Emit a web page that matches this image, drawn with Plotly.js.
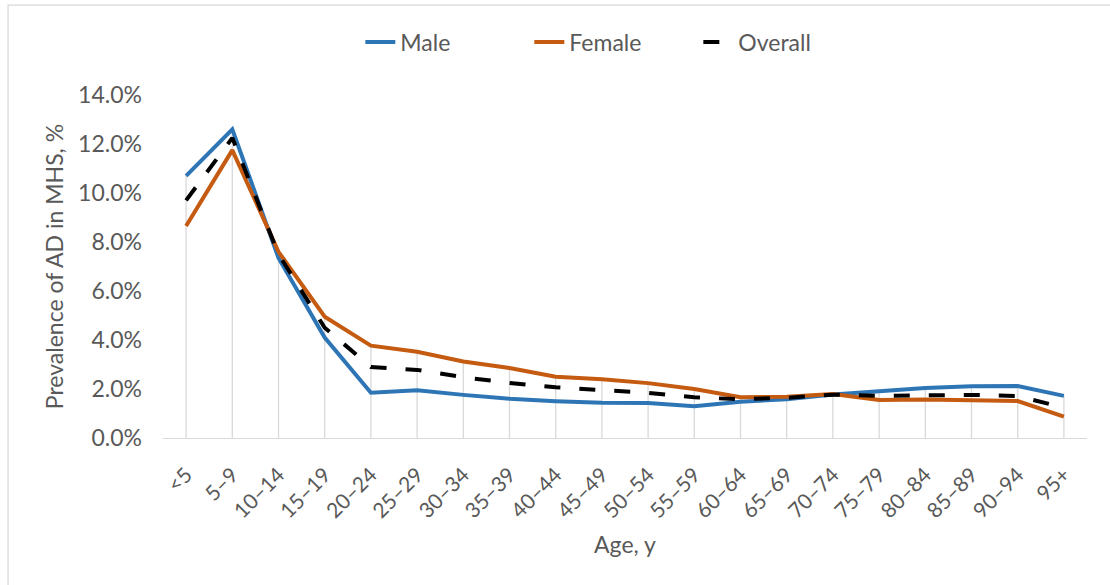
<!DOCTYPE html>
<html>
<head>
<meta charset="utf-8">
<script src="https://cdn.plot.ly/plotly-3.0.1.min.js"></script>
<style>html,body{margin:0;padding:0;background:#fff;}#chart{width:1110px;height:585px;}</style>
</head>
<body>
<div id="chart"></div>
<script>
const ageGroups = ["<5","5–9","10–14","15–19","20–24","25–29","30–34","35–39","40–44","45–49","50–54","55–59","60–64","65–69","70–74","75–79","80–84","85–89","90–94","95+"];
const male    = [10.7,12.6,7.35,4.1,1.85,1.95,1.76,1.6,1.5,1.44,1.43,1.3,1.48,1.58,1.78,1.93,2.04,2.11,2.12,1.72];
const female  = [8.65,11.75,7.6,4.95,3.77,3.52,3.12,2.86,2.5,2.4,2.24,2.0,1.66,1.68,1.8,1.55,1.57,1.52,1.51,0.87];
const overall = [9.7,12.25,7.5,4.5,2.9,2.78,2.48,2.25,2.07,1.95,1.84,1.66,1.58,1.64,1.77,1.72,1.76,1.76,1.71,1.24];
const yTicks = [0,2,4,6,8,10,12,14];

// Drop lines from the highest series value down to the axis
const dropX = [], dropY = [];
ageGroups.forEach((g,i)=>{
  dropX.push(g,g,null);
  dropY.push(0, Math.max(male[i],female[i],overall[i]), null);
});

const font = "Lato, Open Sans, Liberation Sans, sans-serif";
const grey = "#595959";

const traces = [
  {x:dropX, y:dropY, mode:"lines", line:{color:"#d9d9d9", width:1.3}, showlegend:false, hoverinfo:"skip"},
  {x:ageGroups, y:male, name:"Male", mode:"lines", line:{color:"#2E75B6", width:4}},
  {x:ageGroups, y:female, name:"Female", mode:"lines", line:{color:"#C55A11", width:4}},
  {x:ageGroups, y:overall, name:"Overall", mode:"lines", line:{color:"#000000", width:4, dash:"16px,19px"}}
];

const layout = {
  width:1110, height:585,
  margin:{l:163, r:23, t:95, b:147},
  paper_bgcolor:"#ffffff", plot_bgcolor:"#ffffff",
  font:{family:font, color:grey, size:22},
  showlegend:true,
  legend:{orientation:"h", x:0.553, xanchor:"center", xref:"container", y:1-42/585, yref:"container", yanchor:"middle",
          font:{family:font, size:23, color:grey}, entrywidth:124, entrywidthmode:"pixels", traceorder:"normal"},
  xaxis:{type:"category", range:[-0.5,19.5], showgrid:false, zeroline:false,
         showline:true, linecolor:"#d9d9d9", linewidth:1.3, ticks:"",
         tickangle:-45, ticklabelstandoff:15, tickfont:{family:font, size:21, color:grey},
         title:{text:"Age, y", font:{family:font, size:23, color:grey}, standoff:15}},
  yaxis:{range:[0,14], tickvals:yTicks, ticktext:yTicks.map(v=>v.toFixed(1)+"%"),
         showgrid:false, zeroline:false, showline:false, ticks:"",
         ticklabelstandoff:20, tickfont:{family:font, size:23, color:grey},
         title:{text:"Prevalence of AD in MHS, %", font:{family:font, size:23, color:grey}, standoff:8}},
  shapes:[{type:"rect", xref:"paper", yref:"paper", x0:-0.1677, x1:1.03, y0:-0.443, y1:1.262, line:{color:"#d9d9d9", width:1.3}}]
};

Plotly.newPlot("chart", traces, layout, {displayModeBar:false, staticPlot:true});
</script>
</body>
</html>
